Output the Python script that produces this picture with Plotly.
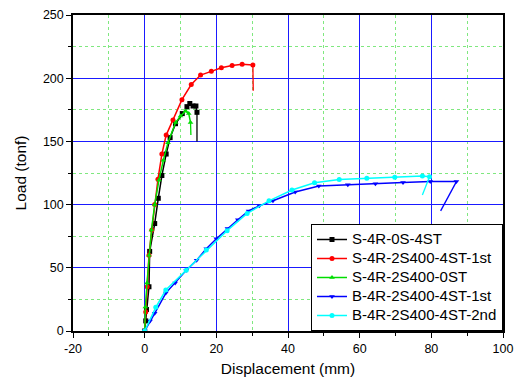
import plotly.graph_objects as go

# S-4R-0S-4ST
s0_x = [0, 0.3, 0.5, 1.2, 1.4, 2.8, 3.8, 4.8, 6.0, 7.1, 8.6, 10.5, 11.8, 12.6, 13.5, 14.3, 14.6, 14.6]
s0_y = [0, 8, 17, 35, 63, 85, 105, 123, 140, 153, 164, 172, 177.5, 180, 178, 178, 173, 150]

# S-4R-2S400-4ST-1st
s1_x = [0, 0.3, 0.7, 1.2, 2.0, 2.8, 3.7, 4.8, 6.0, 7.9, 10.4, 13.0, 15.6, 18.6, 21.4, 24.4, 27.2, 30.2, 30.3]
s1_y = [0, 15, 35, 60, 80, 100, 120, 140, 155, 167, 183, 195, 202.5, 205.4, 208.3, 210, 211, 210.5, 190]

# S-4R-2S400-0ST
s2_x = [0, 0.2, 0.65, 1.2, 1.9, 2.8, 4.0, 5.2, 6.5, 8.65, 10.0, 11.4, 12.3, 12.8, 12.9]
s2_y = [0, 19, 38, 60, 80, 100, 119.5, 135, 149, 165, 170, 174, 172, 165, 155]

# B-4R-2S400-4ST-1st
b1_x = [0, 1.5, 2.8, 5.9, 8.5, 11.6, 14.5, 17.2, 20.0, 23.1, 26.0, 29.0, 32.0, 35.8, 42.0, 48.6,
        56.7, 64.4, 72.1, 79.7, 87.0, 82.6]
b1_y = [0, 8, 14, 30, 38, 48, 56, 65, 73, 81, 88, 95, 99, 103, 110, 114.7,
        115.8, 116.5, 117.4, 118.2, 118.2, 95]

# B-4R-2S400-4ST-2nd
b2_x = [0, 3.1, 5.9, 11.6, 17.2, 23.0, 28.6, 34.7, 41.1, 47.4, 54.3, 62.0, 69.8, 77.5, 79.5, 77.5]
b2_y = [0, 18.7, 32.4, 48, 64, 79.4, 93, 103, 111.5, 117.3, 119.8, 120.8, 121.6, 122.6, 122, 107.6]

names = ["S-4R-0S-4ST", "S-4R-2S400-4ST-1st", "S-4R-2S400-0ST",
         "B-4R-2S400-4ST-1st", "B-4R-2S400-4ST-2nd"]

x_ticks = [-20, 0, 20, 40, 60, 80, 100]
y_ticks = [0, 50, 100, 150, 200, 250]

series = [
    (s0_x, s0_y, "#000000", "square"),
    (s1_x, s1_y, "#ff0000", "circle"),
    (s2_x, s2_y, "#00dd00", "triangle-up"),
    (b1_x, b1_y, "#0000ff", "triangle-down"),
    (b2_x, b2_y, "#00ffff", "circle"),
]

fig = go.Figure()
for (xs, ys, col, sym), nm in zip(series, names):
    # final drop segment: line only (no marker)
    fig.add_trace(go.Scatter(
        x=xs[-2:], y=ys[-2:], mode="lines", showlegend=False,
        line=dict(color=col, width=1.3), hoverinfo="skip",
    ))
    fig.add_trace(go.Scatter(
        x=xs[:-1], y=ys[:-1], mode="lines+markers",
        name='<span style="font-size:15px">' + nm + "</span>",
        line=dict(color=col, width=1.5),
        marker=dict(color=col, symbol=sym, size=5, line=dict(width=0)),
    ))

font = "Liberation Sans, Arial, sans-serif"
fig.update_layout(
    width=515, height=383,
    margin=dict(l=73, r=12, t=15, b=52),
    paper_bgcolor="white", plot_bgcolor="white",
    font=dict(family=font, size=12, color="black"),
    legend=dict(
        x=1, y=0, xanchor="right", yanchor="bottom",
        bgcolor="white", bordercolor="black", borderwidth=1,
        font=dict(size=12.0), itemwidth=30, tracegroupgap=0,
    ),
    showlegend=True,
)
fig.update_xaxes(
    range=[-20, 100], tickvals=x_ticks, ticktext=[str(v) for v in x_ticks],
    showline=True, linecolor="black", linewidth=1.5, mirror=True,
    ticks="outside", ticklen=5, tickcolor="black",
    showgrid=True, gridcolor="#1a1aff", gridwidth=1, zeroline=False,
    minor=dict(dtick=10, ticks="outside", ticklen=3, tickcolor="black",
               showgrid=True, gridcolor="#7fe87f", griddash="dot", gridwidth=1),
    title=dict(text="Displacement (mm)", font=dict(size=15.5), standoff=8),
    tickfont=dict(size=12.5), automargin=False, ticklabeloverflow="allow",
)
fig.update_yaxes(
    range=[0, 250], tickvals=y_ticks, ticktext=[str(v) for v in y_ticks],
    showline=True, linecolor="black", linewidth=1.5, mirror=True,
    ticks="outside", ticklen=5, tickcolor="black",
    showgrid=True, gridcolor="#1a1aff", gridwidth=1, zeroline=False,
    minor=dict(dtick=25, ticks="outside", ticklen=3, tickcolor="black",
               showgrid=True, gridcolor="#7fe87f", griddash="dot", gridwidth=1),
    title=dict(text="Load (tonf)", font=dict(size=15.5), standoff=12),
    tickfont=dict(size=12.5), automargin=False, ticklabeloverflow="allow",
)
# remove the browser's default 8px body margin so the figure fills the window
fig.write_html("out.html", config={"displayModeBar": False},
               post_script="document.body.style.margin='0px';")
